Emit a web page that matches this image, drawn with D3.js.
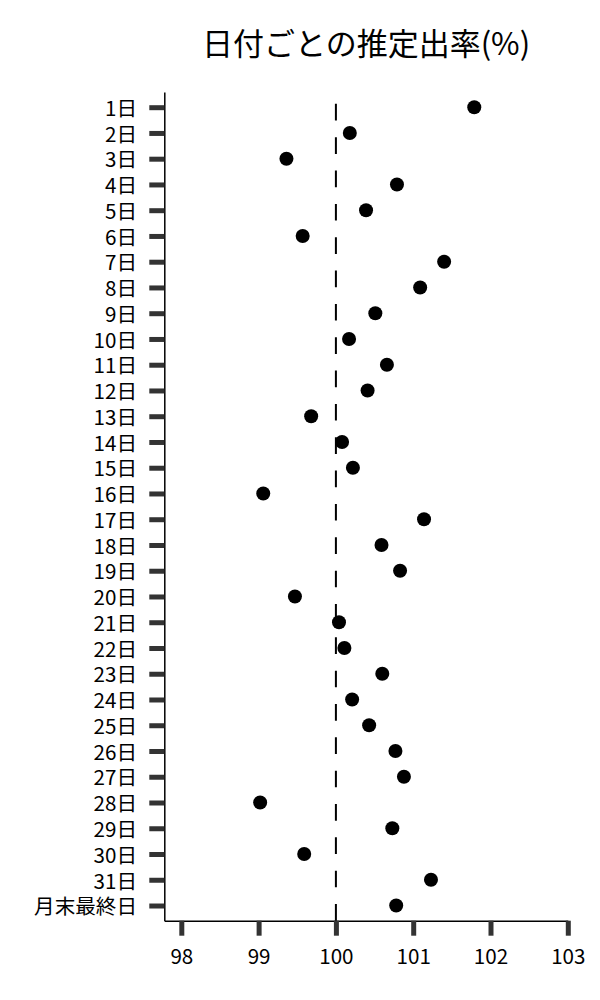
<!DOCTYPE html>
<html>
<head>
<meta charset="utf-8">
<script src="https://cdn.jsdelivr.net/npm/d3@7"></script>
<style>
  body { margin: 0; background: #fff; }
  svg { display: block; font-family: "Noto Sans CJK JP", "Noto Sans", sans-serif; }
</style>
</head>
<body>
<svg id="chart"></svg>
<script>
//////////
// Data //
//////////
const days = [
  "1日", "2日", "3日", "4日", "5日", "6日", "7日", "8日", "9日", "10日",
  "11日", "12日", "13日", "14日", "15日", "16日", "17日", "18日", "19日", "20日",
  "21日", "22日", "23日", "24日", "25日", "26日", "27日", "28日", "29日", "30日",
  "31日", "月末最終日"
];
const rates = [
  101.79, 100.18, 99.36, 100.79, 100.39, 99.57, 101.40, 101.09, 100.51, 100.17,
  100.66, 100.41, 99.68, 100.08, 100.22, 99.06, 101.14, 100.59, 100.83, 99.47,
  100.04, 100.11, 100.60, 100.21, 100.43, 100.77, 100.88, 99.02, 100.73, 99.59,
  101.23, 100.78
];
const xTicks = [98, 99, 100, 101, 102, 103];
const refValue = 100;
const title = "日付ごとの推定出率(%)";

const data = days.map((d, i) => ({ day: d, rate: rates[i] }));

//////////////////////////
// Chart specifications //
//////////////////////////
const width = 600, height = 1000;
const plotLeft = 164.3, plotRight = 567.8, plotTop = 92, plotBottom = 920.7;

const svg = d3.select("#chart").attr("width", width).attr("height", height);

// x scale: the left spine sits a bit below 98
const x = d3.scaleLinear()
  .domain([97.78, 103])
  .range([plotLeft, plotRight]);

const y = d3.scalePoint()
  .domain(days)
  .range([plotTop, plotBottom])
  .padding(0.59);

// title
svg.append("text")
  .attr("x", (plotLeft + plotRight) / 2)
  .attr("y", 55)
  .attr("text-anchor", "middle")
  .attr("font-size", 31)
  .attr("fill", "#000")
  .text(title);

// x axis
const xAxis = svg.append("g")
  .attr("transform", `translate(0,${plotBottom})`)
  .call(d3.axisBottom(x).tickValues(xTicks).tickFormat(d3.format("d"))
    .tickSize(15).tickSizeOuter(0).tickPadding(14));

// y axis
const yAxis = svg.append("g")
  .attr("transform", `translate(${plotLeft},0)`)
  .call(d3.axisLeft(y).tickSize(15).tickSizeOuter(0).tickPadding(12.3));

[xAxis, yAxis].forEach((g) => {
  g.select(".domain").attr("stroke", "#000").attr("stroke-width", 1.5);
  g.selectAll(".tick line").attr("stroke", "#333").attr("stroke-width", 5);
  g.selectAll(".tick text")
    .attr("font-size", 20.6)
    .attr("fill", "#000")
    .attr("font-family", "'Noto Sans CJK JP', sans-serif");
});
yAxis.selectAll(".tick text").attr("dy", "0.4em");

// dashed reference line at 100, dashes counted from the bottom spine
svg.append("line")
  .attr("x1", x(refValue))
  .attr("x2", x(refValue))
  .attr("y1", plotBottom)
  .attr("y2", plotTop)
  .attr("stroke", "#000")
  .attr("stroke-width", 2)
  .attr("stroke-dasharray", "16.67,16.67");

// dots
svg.append("g")
  .selectAll("circle")
  .data(data)
  .join("circle")
  .attr("cx", (d) => x(d.rate))
  .attr("cy", (d) => y(d.day))
  .attr("r", 7)
  .attr("fill", "#000");
</script>
</body>
</html>
